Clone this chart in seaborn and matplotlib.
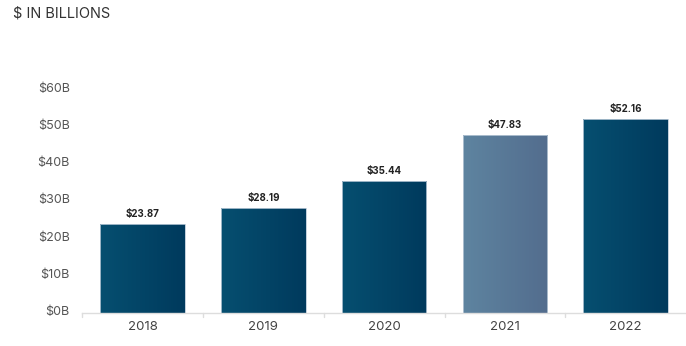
import numpy as np
import pandas as pd
import matplotlib
matplotlib.use("Agg")
import matplotlib.pyplot as plt
import seaborn as sns
from matplotlib.colors import LinearSegmentedColormap
from matplotlib.transforms import offset_copy

years = ["2018", "2019", "2020", "2021", "2022"]
values = [23.87, 28.19, 35.44, 47.83, 52.16]
labels = ["$23.87", "$28.19", "$35.44", "$47.83", "$52.16"]
yticks = [0, 10, 20, 30, 40, 50, 60]
ytick_labels = ["$0B", "$10B", "$20B", "$30B", "$40B", "$50B", "$60B"]

sns.set_theme(style="white")
plt.rcParams['font.family'] = ['Inter', 'DejaVu Sans']

df = pd.DataFrame({"year": years, "value": values})

fig = plt.figure(figsize=(6.86, 3.46), dpi=100)
ax = fig.add_axes([0.1200, 0.0954, 0.8800, 0.6445])

sns.barplot(data=df, x="year", y="value", ax=ax, color="#024568", width=0.70,
            edgecolor="#b8c8d6", linewidth=0.6, saturation=1)

dark = LinearSegmentedColormap.from_list("dark", ["#064f70", "#003a5d"])
light = LinearSegmentedColormap.from_list("light", ["#5e84a0", "#536d8e"])
grad = np.linspace(0, 1, 256).reshape(1, -1)
for i, p in enumerate(ax.patches):
    x0, y0 = p.get_x(), p.get_y()
    w, h = p.get_width(), p.get_height()
    cmap = light if years[i] == "2021" else dark
    im = ax.imshow(grad, cmap=cmap, aspect="auto", extent=[x0, x0 + w, y0, y0 + h],
                   zorder=p.get_zorder() + 0.1)
    im.set_clip_path(p)
    p.set_facecolor("none")
    p.set_zorder(p.get_zorder() + 0.2)
    ax.text(x0 + w / 2, y0 + h + 1.3, labels[i], ha="center", va="bottom",
            fontsize=7, fontweight="bold", color="#222222")

ax.set_xlim(-0.5, 4.5)
ax.set_ylim(0, 60)
ax.set_yticks(yticks)
ax.set_yticklabels(ytick_labels)
ax.set_xlabel("")
ax.set_ylabel("")

for s in ["top", "right", "left"]:
    ax.spines[s].set_visible(False)
ax.spines["bottom"].set_color("#dddddd")
ax.spines["bottom"].set_linewidth(1)

ax.tick_params(axis="y", length=0, pad=9, labelsize=9, labelcolor="#555555")
ax.tick_params(axis="x", length=0, pad=6, labelsize=9.5, labelcolor="#444444")
for lbl in ax.get_yticklabels():
    lbl.set_transform(offset_copy(lbl.get_transform(), fig=fig, x=0, y=2.5, units="dots"))
# boundary tick marks between categories
for b in [-0.5, 0.5, 1.5, 2.5, 3.5]:
    ax.plot([b, b], [0, -1.2], color="#dddddd", lw=1, clip_on=False)

fig.text(0.019, 0.962, "$ IN BILLIONS", ha="left", va="center",
         fontsize=10.5, color="#333333")

fig.savefig("out.png", dpi=100)
